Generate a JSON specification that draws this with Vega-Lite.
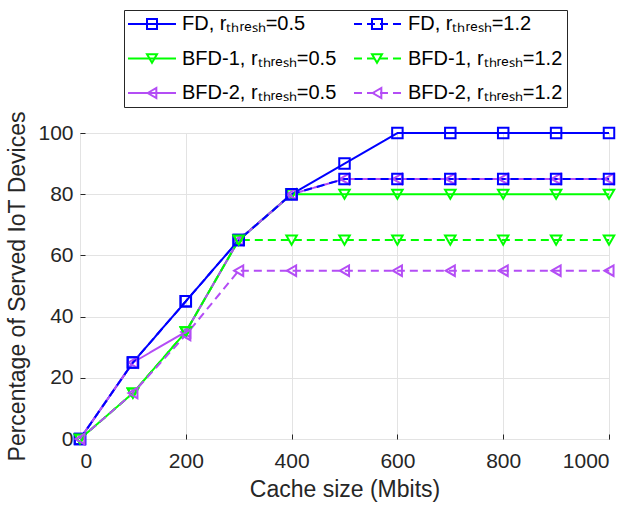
{
  "$schema": "https://vega.github.io/schema/vega-lite/v6.json",
  "width": 529,
  "height": 306,
  "autosize": {"type": "none"},
  "padding": {"left": 80, "top": 133, "right": 26, "bottom": 69},
  "background": "white",
  "config": {
    "font": "Liberation Sans",
    "view": {"stroke": "#262626", "strokeWidth": 1},
    "axis": {
      "labelFont": "Liberation Sans",
      "titleFont": "Liberation Sans",
      "labelColor": "#262626",
      "titleColor": "#262626",
      "labelFontSize": 21,
      "titleFontSize": 23,
      "titleFontWeight": "normal",
      "grid": true,
      "gridColor": "#e3e3e3",
      "gridWidth": 1,
      "domain": false,
      "ticks": true,
      "tickSize": -5,
      "tickColor": "#262626",
      "tickWidth": 1
    }
  },
  "data": {
    "values": [
      {"s": "FD, r\u209c\u2095\u1d63\u2091\u209b\u2095=0.5", "x": 0, "y": 0},
      {"s": "FD, r\u209c\u2095\u1d63\u2091\u209b\u2095=0.5", "x": 100, "y": 25},
      {"s": "FD, r\u209c\u2095\u1d63\u2091\u209b\u2095=0.5", "x": 200, "y": 45},
      {"s": "FD, r\u209c\u2095\u1d63\u2091\u209b\u2095=0.5", "x": 300, "y": 65},
      {"s": "FD, r\u209c\u2095\u1d63\u2091\u209b\u2095=0.5", "x": 400, "y": 80},
      {"s": "FD, r\u209c\u2095\u1d63\u2091\u209b\u2095=0.5", "x": 500, "y": 90},
      {"s": "FD, r\u209c\u2095\u1d63\u2091\u209b\u2095=0.5", "x": 600, "y": 100},
      {"s": "FD, r\u209c\u2095\u1d63\u2091\u209b\u2095=0.5", "x": 700, "y": 100},
      {"s": "FD, r\u209c\u2095\u1d63\u2091\u209b\u2095=0.5", "x": 800, "y": 100},
      {"s": "FD, r\u209c\u2095\u1d63\u2091\u209b\u2095=0.5", "x": 900, "y": 100},
      {"s": "FD, r\u209c\u2095\u1d63\u2091\u209b\u2095=0.5", "x": 1000, "y": 100},
      {"s": "BFD-1, r\u209c\u2095\u1d63\u2091\u209b\u2095=0.5", "x": 0, "y": 0},
      {"s": "BFD-1, r\u209c\u2095\u1d63\u2091\u209b\u2095=0.5", "x": 100, "y": 15},
      {"s": "BFD-1, r\u209c\u2095\u1d63\u2091\u209b\u2095=0.5", "x": 200, "y": 35},
      {"s": "BFD-1, r\u209c\u2095\u1d63\u2091\u209b\u2095=0.5", "x": 300, "y": 65},
      {"s": "BFD-1, r\u209c\u2095\u1d63\u2091\u209b\u2095=0.5", "x": 400, "y": 80},
      {"s": "BFD-1, r\u209c\u2095\u1d63\u2091\u209b\u2095=0.5", "x": 500, "y": 80},
      {"s": "BFD-1, r\u209c\u2095\u1d63\u2091\u209b\u2095=0.5", "x": 600, "y": 80},
      {"s": "BFD-1, r\u209c\u2095\u1d63\u2091\u209b\u2095=0.5", "x": 700, "y": 80},
      {"s": "BFD-1, r\u209c\u2095\u1d63\u2091\u209b\u2095=0.5", "x": 800, "y": 80},
      {"s": "BFD-1, r\u209c\u2095\u1d63\u2091\u209b\u2095=0.5", "x": 900, "y": 80},
      {"s": "BFD-1, r\u209c\u2095\u1d63\u2091\u209b\u2095=0.5", "x": 1000, "y": 80},
      {"s": "BFD-2, r\u209c\u2095\u1d63\u2091\u209b\u2095=0.5", "x": 0, "y": 0},
      {"s": "BFD-2, r\u209c\u2095\u1d63\u2091\u209b\u2095=0.5", "x": 100, "y": 25},
      {"s": "BFD-2, r\u209c\u2095\u1d63\u2091\u209b\u2095=0.5", "x": 200, "y": 35},
      {"s": "BFD-2, r\u209c\u2095\u1d63\u2091\u209b\u2095=0.5", "x": 300, "y": 65},
      {"s": "BFD-2, r\u209c\u2095\u1d63\u2091\u209b\u2095=0.5", "x": 400, "y": 80},
      {"s": "BFD-2, r\u209c\u2095\u1d63\u2091\u209b\u2095=0.5", "x": 500, "y": 85},
      {"s": "BFD-2, r\u209c\u2095\u1d63\u2091\u209b\u2095=0.5", "x": 600, "y": 85},
      {"s": "BFD-2, r\u209c\u2095\u1d63\u2091\u209b\u2095=0.5", "x": 700, "y": 85},
      {"s": "BFD-2, r\u209c\u2095\u1d63\u2091\u209b\u2095=0.5", "x": 800, "y": 85},
      {"s": "BFD-2, r\u209c\u2095\u1d63\u2091\u209b\u2095=0.5", "x": 900, "y": 85},
      {"s": "BFD-2, r\u209c\u2095\u1d63\u2091\u209b\u2095=0.5", "x": 1000, "y": 85},
      {"s": "FD, r\u209c\u2095\u1d63\u2091\u209b\u2095=1.2", "x": 0, "y": 0},
      {"s": "FD, r\u209c\u2095\u1d63\u2091\u209b\u2095=1.2", "x": 100, "y": 25},
      {"s": "FD, r\u209c\u2095\u1d63\u2091\u209b\u2095=1.2", "x": 200, "y": 45},
      {"s": "FD, r\u209c\u2095\u1d63\u2091\u209b\u2095=1.2", "x": 300, "y": 65},
      {"s": "FD, r\u209c\u2095\u1d63\u2091\u209b\u2095=1.2", "x": 400, "y": 80},
      {"s": "FD, r\u209c\u2095\u1d63\u2091\u209b\u2095=1.2", "x": 500, "y": 85},
      {"s": "FD, r\u209c\u2095\u1d63\u2091\u209b\u2095=1.2", "x": 600, "y": 85},
      {"s": "FD, r\u209c\u2095\u1d63\u2091\u209b\u2095=1.2", "x": 700, "y": 85},
      {"s": "FD, r\u209c\u2095\u1d63\u2091\u209b\u2095=1.2", "x": 800, "y": 85},
      {"s": "FD, r\u209c\u2095\u1d63\u2091\u209b\u2095=1.2", "x": 900, "y": 85},
      {"s": "FD, r\u209c\u2095\u1d63\u2091\u209b\u2095=1.2", "x": 1000, "y": 85},
      {"s": "BFD-1, r\u209c\u2095\u1d63\u2091\u209b\u2095=1.2", "x": 0, "y": 0},
      {"s": "BFD-1, r\u209c\u2095\u1d63\u2091\u209b\u2095=1.2", "x": 100, "y": 15},
      {"s": "BFD-1, r\u209c\u2095\u1d63\u2091\u209b\u2095=1.2", "x": 200, "y": 35},
      {"s": "BFD-1, r\u209c\u2095\u1d63\u2091\u209b\u2095=1.2", "x": 300, "y": 65},
      {"s": "BFD-1, r\u209c\u2095\u1d63\u2091\u209b\u2095=1.2", "x": 400, "y": 65},
      {"s": "BFD-1, r\u209c\u2095\u1d63\u2091\u209b\u2095=1.2", "x": 500, "y": 65},
      {"s": "BFD-1, r\u209c\u2095\u1d63\u2091\u209b\u2095=1.2", "x": 600, "y": 65},
      {"s": "BFD-1, r\u209c\u2095\u1d63\u2091\u209b\u2095=1.2", "x": 700, "y": 65},
      {"s": "BFD-1, r\u209c\u2095\u1d63\u2091\u209b\u2095=1.2", "x": 800, "y": 65},
      {"s": "BFD-1, r\u209c\u2095\u1d63\u2091\u209b\u2095=1.2", "x": 900, "y": 65},
      {"s": "BFD-1, r\u209c\u2095\u1d63\u2091\u209b\u2095=1.2", "x": 1000, "y": 65},
      {"s": "BFD-2, r\u209c\u2095\u1d63\u2091\u209b\u2095=1.2", "x": 0, "y": 0},
      {"s": "BFD-2, r\u209c\u2095\u1d63\u2091\u209b\u2095=1.2", "x": 100, "y": 15},
      {"s": "BFD-2, r\u209c\u2095\u1d63\u2091\u209b\u2095=1.2", "x": 200, "y": 34},
      {"s": "BFD-2, r\u209c\u2095\u1d63\u2091\u209b\u2095=1.2", "x": 300, "y": 55},
      {"s": "BFD-2, r\u209c\u2095\u1d63\u2091\u209b\u2095=1.2", "x": 400, "y": 55},
      {"s": "BFD-2, r\u209c\u2095\u1d63\u2091\u209b\u2095=1.2", "x": 500, "y": 55},
      {"s": "BFD-2, r\u209c\u2095\u1d63\u2091\u209b\u2095=1.2", "x": 600, "y": 55},
      {"s": "BFD-2, r\u209c\u2095\u1d63\u2091\u209b\u2095=1.2", "x": 700, "y": 55},
      {"s": "BFD-2, r\u209c\u2095\u1d63\u2091\u209b\u2095=1.2", "x": 800, "y": 55},
      {"s": "BFD-2, r\u209c\u2095\u1d63\u2091\u209b\u2095=1.2", "x": 900, "y": 55},
      {"s": "BFD-2, r\u209c\u2095\u1d63\u2091\u209b\u2095=1.2", "x": 1000, "y": 55}
    ]
  },
  "encoding": {
    "x": {
      "field": "x", "type": "quantitative",
      "scale": {"domain": [0, 1000], "nice": false},
      "axis": {"values": [0, 200, 400, 600, 800, 1000], "format": "d", "title": "Cache size (Mbits)", "labelPadding": 16, "titlePadding": 7}
    },
    "y": {
      "field": "y", "type": "quantitative",
      "scale": {"domain": [0, 100], "nice": false},
      "axis": {"values": [0, 20, 40, 60, 80, 100], "title": "Percentage of Served IoT Devices", "labelPadding": 12, "titlePadding": 8}
    }
  },
  "layer": [
    {
      "mark": {"type": "line", "strokeWidth": 2},
      "encoding": {
        "color": {
          "field": "s", "type": "nominal",
          "scale": {
            "domain": ["FD, r\u209c\u2095\u1d63\u2091\u209b\u2095=0.5", "BFD-1, r\u209c\u2095\u1d63\u2091\u209b\u2095=0.5", "BFD-2, r\u209c\u2095\u1d63\u2091\u209b\u2095=0.5", "FD, r\u209c\u2095\u1d63\u2091\u209b\u2095=1.2", "BFD-1, r\u209c\u2095\u1d63\u2091\u209b\u2095=1.2", "BFD-2, r\u209c\u2095\u1d63\u2091\u209b\u2095=1.2"],
            "range": ["#0000ff", "#00ff00", "#b44df5", "#0000ff", "#00ff00", "#b44df5"]
          },
          "legend": {
            "orient": "none", "legendX": 44, "legendY": -123, "columns": 2, "title": null,
            "symbolType": "M-2.667,0H2.667", "symbolSize": 324, "symbolStrokeWidth": 2, "symbolOffset": 14,
            "labelFontSize": 20, "labelFont": "Liberation Sans", "labelColor": "#000000",
            "labelOffset": 20, "columnPadding": 12, "rowPadding": 14.5, "padding": 4,
            "strokeColor": "#262626", "labelLimit": 300
          }
        },
        "strokeDash": {
          "field": "s", "type": "nominal",
          "scale": {
            "domain": ["FD, r\u209c\u2095\u1d63\u2091\u209b\u2095=0.5", "BFD-1, r\u209c\u2095\u1d63\u2091\u209b\u2095=0.5", "BFD-2, r\u209c\u2095\u1d63\u2091\u209b\u2095=0.5", "FD, r\u209c\u2095\u1d63\u2091\u209b\u2095=1.2", "BFD-1, r\u209c\u2095\u1d63\u2091\u209b\u2095=1.2", "BFD-2, r\u209c\u2095\u1d63\u2091\u209b\u2095=1.2"],
            "range": [[1, 0], [1, 0], [1, 0], [8, 5], [8, 5], [8, 5]]
          },
          "legend": {
            "orient": "none", "legendX": 44, "legendY": -123, "columns": 2, "title": null,
            "symbolType": "M-2.667,0H2.667", "symbolSize": 324, "symbolStrokeWidth": 2, "symbolOffset": 14,
            "labelFontSize": 20, "labelFont": "Liberation Sans", "labelColor": "#000000",
            "labelOffset": 20, "columnPadding": 12, "rowPadding": 14.5, "padding": 4,
            "strokeColor": "#262626", "labelLimit": 300
          }
        }
      }
    },
    {
      "mark": {"type": "point", "filled": false, "strokeWidth": 2, "size": 110, "opacity": 1},
      "encoding": {
        "color": {
          "field": "s", "type": "nominal",
          "scale": {
            "domain": ["FD, r\u209c\u2095\u1d63\u2091\u209b\u2095=0.5", "BFD-1, r\u209c\u2095\u1d63\u2091\u209b\u2095=0.5", "BFD-2, r\u209c\u2095\u1d63\u2091\u209b\u2095=0.5", "FD, r\u209c\u2095\u1d63\u2091\u209b\u2095=1.2", "BFD-1, r\u209c\u2095\u1d63\u2091\u209b\u2095=1.2", "BFD-2, r\u209c\u2095\u1d63\u2091\u209b\u2095=1.2"],
            "range": ["#0000ff", "#00ff00", "#b44df5", "#0000ff", "#00ff00", "#b44df5"]
          },
          "legend": {
            "orient": "none", "legendX": 44, "legendY": -123, "columns": 2, "title": null,
            "symbolSize": 100, "symbolStrokeWidth": 2, "symbolOffset": 14,
            "labelFontSize": 20, "labelFont": "Liberation Sans", "labelExpr": "''",
            "labelOffset": 20, "columnPadding": 171, "rowPadding": 14.5, "padding": 4,
            "labelLimit": 300
          }
        },
        "shape": {
          "field": "s", "type": "nominal",
          "scale": {
            "domain": ["FD, r\u209c\u2095\u1d63\u2091\u209b\u2095=0.5", "BFD-1, r\u209c\u2095\u1d63\u2091\u209b\u2095=0.5", "BFD-2, r\u209c\u2095\u1d63\u2091\u209b\u2095=0.5", "FD, r\u209c\u2095\u1d63\u2091\u209b\u2095=1.2", "BFD-1, r\u209c\u2095\u1d63\u2091\u209b\u2095=1.2", "BFD-2, r\u209c\u2095\u1d63\u2091\u209b\u2095=1.2"],
            "range": ["square", "triangle-down", "triangle-left", "square", "triangle-down", "triangle-left"]
          },
          "legend": {
            "orient": "none", "legendX": 44, "legendY": -123, "columns": 2, "title": null,
            "symbolSize": 100, "symbolStrokeWidth": 2, "symbolOffset": 14,
            "labelFontSize": 20, "labelFont": "Liberation Sans", "labelExpr": "''",
            "labelOffset": 20, "columnPadding": 171, "rowPadding": 14.5, "padding": 4,
            "labelLimit": 300
          }
        }
      }
    }
  ],
  "resolve": {
    "scale": {"color": "independent", "shape": "independent", "strokeDash": "independent"},
    "legend": {"color": "independent", "shape": "independent", "strokeDash": "independent"}
  }
}
